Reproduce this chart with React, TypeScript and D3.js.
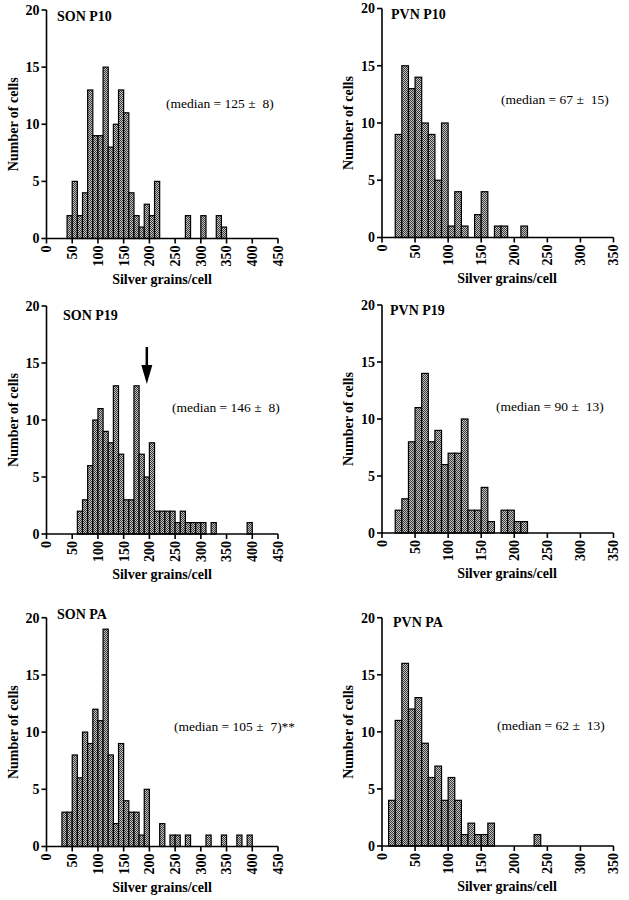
import React from 'react';
import * as d3 from 'd3';

// ---- data (bin width 10 grains/cell) ----
const BIN = 10;
const yTickValues = [0, 5, 10, 15, 20];
const sonXTickValues = [0, 50, 100, 150, 200, 250, 300, 350, 400, 450];
const pvnXTickValues = [0, 50, 100, 150, 200, 250, 300, 350];

const sonP10Start = 40;
const sonP10Counts = [2, 5, 2, 4, 13, 9, 9, 15, 8, 10, 13, 11, 4, 2, 1, 3, 2, 5, 0, 0, 0, 0, 0, 2, 0, 0, 2, 0, 0, 2, 1];
const pvnP10Start = 20;
const pvnP10Counts = [9, 15, 13, 14, 10, 9, 5, 10, 1, 4, 1, 0, 2, 4, 0, 1, 1, 0, 0, 1];
const sonP19Start = 60;
const sonP19Counts = [2, 3, 6, 10, 11, 9, 8, 13, 7, 3, 3, 13, 7, 5, 8, 2, 2, 2, 2, 1, 2, 1, 1, 1, 1, 0, 1, 0, 0, 0, 0, 0, 0, 1];
const sonP19Arrow = 195;
const pvnP19Start = 20;
const pvnP19Counts = [2, 3, 8, 11, 14, 8, 9, 6, 7, 7, 10, 2, 2, 4, 1, 0, 2, 2, 1, 1];
const sonPAStart = 30;
const sonPACounts = [3, 3, 8, 6, 10, 9, 12, 11, 19, 8, 2, 9, 4, 3, 3, 1, 5, 0, 0, 2, 0, 1, 1, 0, 1, 0, 0, 0, 1, 0, 0, 1, 0, 0, 1, 0, 1];
const pvnPAStart = 10;
const pvnPACounts = [4, 11, 16, 12, 13, 9, 6, 7, 4, 6, 4, 1, 2, 1, 1, 2, 0, 0, 0, 0, 0, 0, 1];

const titles = ['SON P10', 'PVN P10', 'SON P19', 'PVN P19', 'SON PA', 'PVN PA'];
const medians = [
  '(median = 125 \u00B1  8)',
  '(median = 67 \u00B1  15)',
  '(median = 146 \u00B1  8)',
  '(median = 90 \u00B1  13)',
  '(median = 105 \u00B1  7)**',
  '(median = 62 \u00B1  13)',
];

const FONT = '"Liberation Serif", "Times New Roman", serif';

type PanelProps = {
  title: string;
  median: string;
  start: number;
  counts: number[];
  xMax: number;
  xTicks: number[];
  x0: number; x1: number; y0: number; y1: number;
  titleX: number; titleY: number;
  medX: number; medY: number;
  xTitleX: number;
  arrow?: number;
  arrowTop?: number; arrowTip?: number;
};

function Panel(p: PanelProps) {
  const x = d3.scaleLinear().domain([0, p.xMax]).range([p.x0, p.x1]);
  const y = d3.scaleLinear().domain([0, 20]).range([p.y0, p.y1]);
  const bars = p.counts.map((c, i) => ({ lo: p.start + i * BIN, c })).filter(d => d.c > 0);
  return (
    <g fontFamily={FONT}>
      {bars.map((d, i) => (
        <rect key={i} x={x(d.lo)} y={y(d.c)} width={x(d.lo + BIN) - x(d.lo)} height={y(0) - y(d.c)}
          fill="url(#dots)" stroke="#000" strokeWidth={1.2} />
      ))}
      {/* axes */}
      <line x1={p.x0} x2={p.x0} y1={y(20)} y2={y(0)} stroke="#000" strokeWidth={1.6} />
      <line x1={p.x0} x2={p.x1} y1={y(0)} y2={y(0)} stroke="#000" strokeWidth={1.6} />
      {yTickValues.map(t => (
        <g key={'y' + t}>
          <line x1={p.x0 - 5} x2={p.x0} y1={y(t)} y2={y(t)} stroke="#000" strokeWidth={1.6} />
          <text x={p.x0 - 7} y={y(t)} dy="0.35em" textAnchor="end" fontSize={14} fontWeight="bold">{t}</text>
        </g>
      ))}
      {p.xTicks.map(t => (
        <g key={'x' + t}>
          <line x1={x(t)} x2={x(t)} y1={y(0)} y2={y(0) + 5} stroke="#000" strokeWidth={1.6} />
          <text transform={`translate(${x(t)},${y(0) + 7}) rotate(-90)`} dy="0.35em" textAnchor="end"
            fontSize={14} fontWeight="bold">{t}</text>
        </g>
      ))}
      <text transform={`translate(${p.x0 - 29},${(y(0) + y(20)) / 2}) rotate(-90)`} textAnchor="middle"
        fontSize={14} fontWeight="bold">Number of cells</text>
      <text x={p.xTitleX} y={y(0) + 45} textAnchor="middle" fontSize={14} fontWeight="bold">Silver grains/cell</text>
      <text x={p.titleX} y={p.titleY} fontSize={14} fontWeight="bold">{p.title}</text>
      <text x={p.medX} y={p.medY} fontSize={13.5} style={{ whiteSpace: 'pre' }}>{p.median}</text>
      {p.arrow !== undefined && (
        <g>
          <line x1={x(p.arrow)} x2={x(p.arrow)} y1={p.arrowTop} y2={(p.arrowTip as number) - 14} stroke="#000" strokeWidth={2.5} />
          <path d={`M${x(p.arrow) - 5.5},${(p.arrowTip as number) - 19} L${x(p.arrow) + 5.5},${(p.arrowTip as number) - 19} L${x(p.arrow)},${p.arrowTip} Z`} fill="#000" />
        </g>
      )}
    </g>
  );
}

export default function App() {
  const L = { x0: 46.5, x1: 278, xMax: 450, xTicks: sonXTickValues, xTitleX: 162 };
  const R = { x0: 382, x1: 613.5, xMax: 350, xTicks: pvnXTickValues, xTitleX: 507 };
  return (
    <svg width={629} height={900} style={{ position: 'absolute', left: 0, top: 0, background: '#fff' }}>
      <defs>
        <pattern id="dots" width={2} height={2} patternUnits="userSpaceOnUse">
          <rect width={2} height={2} fill="#c4c4c4" />
          <rect width={1} height={1} fill="#3a3a3a" />
          <rect x={1} y={1} width={1} height={1} fill="#3a3a3a" />
        </pattern>
      </defs>
      <rect width={629} height={900} fill="#fff" />
      <Panel {...L} y0={238.5} y1={10} title={titles[0]} median={medians[0]} start={sonP10Start} counts={sonP10Counts}
        titleX={57} titleY={21} medX={166} medY={108} />
      <Panel {...R} y0={237.5} y1={8.5} title={titles[1]} median={medians[1]} start={pvnP10Start} counts={pvnP10Counts}
        titleX={391} titleY={18.5} medX={501} medY={104} />
      <Panel {...L} y0={534} y1={306} title={titles[2]} median={medians[2]} start={sonP19Start} counts={sonP19Counts}
        titleX={63} titleY={320} medX={172} medY={412} arrow={sonP19Arrow} arrowTop={347} arrowTip={384} />
      <Panel {...R} y0={533} y1={305} title={titles[3]} median={medians[3]} start={pvnP19Start} counts={pvnP19Counts}
        titleX={390} titleY={315} medX={496} medY={411} />
      <Panel {...L} y0={846.5} y1={617.7} title={titles[4]} median={medians[4]} start={sonPAStart} counts={sonPACounts}
        titleX={57} titleY={619} medX={174} medY={731} />
      <Panel {...R} y0={846} y1={617.7} title={titles[5]} median={medians[5]} start={pvnPAStart} counts={pvnPACounts}
        titleX={393} titleY={627} medX={497} medY={730} />
    </svg>
  );
}
